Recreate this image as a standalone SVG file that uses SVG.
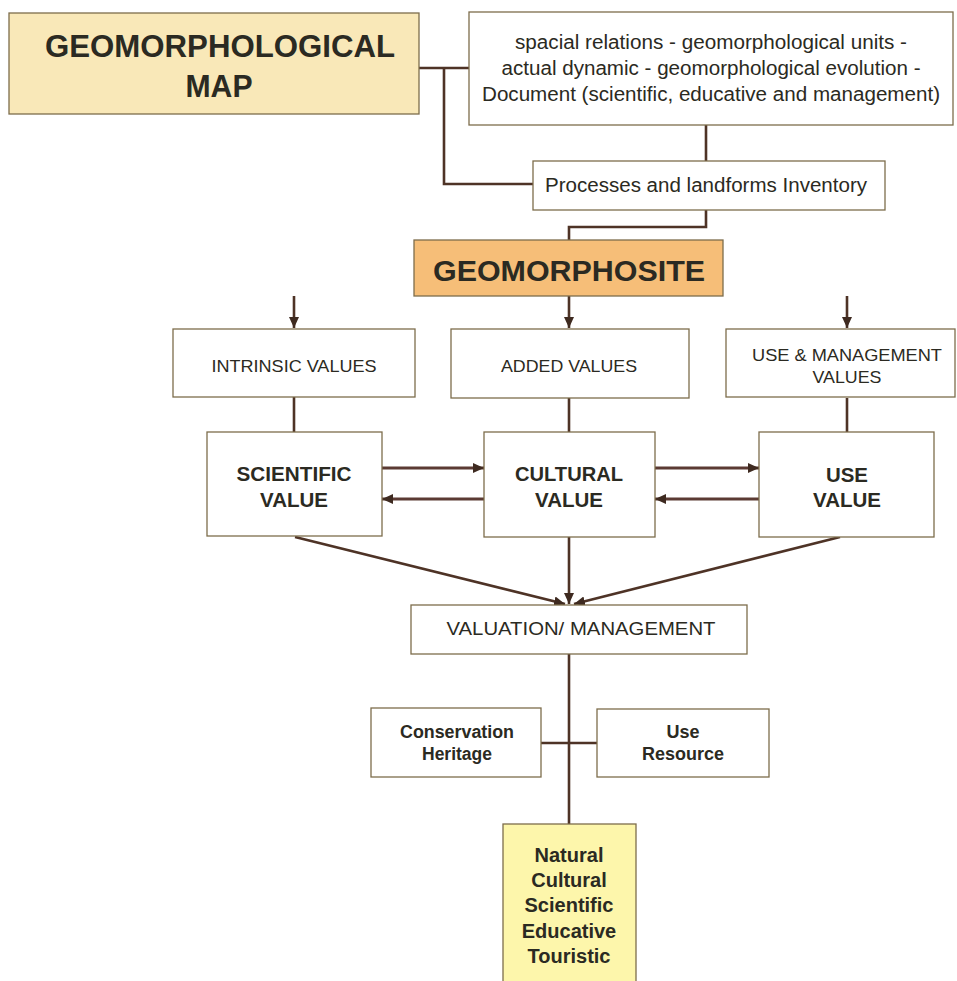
<svg xmlns="http://www.w3.org/2000/svg" width="957" height="981" viewBox="0 0 957 981">
<defs>
<style>
.box{fill:#ffffff;stroke:#7d6d4c;stroke-width:1.3}
.map{fill:#f9e8b8}
.site{fill:#f6be78}
.res{fill:#fdf6ab}
.ln{fill:none;stroke:#4e3326;stroke-width:2.6}
.dbl{fill:none;stroke:#5b3a33;stroke-width:3.2}
text{font-family:"Liberation Sans",Arial,sans-serif;fill:#2b2a22;text-anchor:middle}
.b{font-weight:bold}
</style>
<marker id="ah" markerUnits="userSpaceOnUse" markerWidth="12" markerHeight="10" refX="11" refY="5" orient="auto">
<path d="M0,0 L11,5 L0,10 Z" fill="#3e2a20"/>
</marker>
</defs>
<rect width="957" height="981" fill="#ffffff"/>

<g id="connectors">
<polyline class="ln" points="419,68 469,68"/>
<polyline class="ln" points="444,68 444,184 533,184"/>
<polyline class="ln" points="706,125 706,161"/>
<polyline class="ln" points="706,210 706,227 569,227 569,240"/>
<line class="ln" x1="569" y1="296" x2="569" y2="328" marker-end="url(#ah)"/>
<line class="ln" x1="294" y1="296" x2="294" y2="328" marker-end="url(#ah)"/>
<line class="ln" x1="847" y1="296" x2="847" y2="328" marker-end="url(#ah)"/>
<line class="ln" x1="294" y1="397" x2="294" y2="432"/>
<line class="ln" x1="569" y1="398" x2="569" y2="432"/>
<line class="ln" x1="847" y1="398" x2="847" y2="432"/>
<line class="dbl" x1="382" y1="468" x2="484" y2="468" marker-end="url(#ah)"/>
<line class="dbl" x1="484" y1="499" x2="382" y2="499" marker-end="url(#ah)"/>
<line class="dbl" x1="655" y1="468" x2="759" y2="468" marker-end="url(#ah)"/>
<line class="dbl" x1="759" y1="499" x2="655" y2="499" marker-end="url(#ah)"/>
<line class="ln" x1="295" y1="537" x2="565" y2="604" marker-end="url(#ah)"/>
<line class="ln" x1="569" y1="537" x2="569" y2="604" marker-end="url(#ah)"/>
<line class="ln" x1="840" y1="537" x2="574" y2="604" marker-end="url(#ah)"/>
<line class="ln" x1="569" y1="654" x2="569" y2="824"/>
<line class="ln" x1="541" y1="743" x2="597" y2="743"/>
</g>

<g id="geomorphological-map">
<rect class="box map" x="9" y="13" width="410" height="101"/>
<text class="b" x="220" y="57" font-size="32" textLength="350" lengthAdjust="spacingAndGlyphs">GEOMORPHOLOGICAL</text>
<text class="b" x="219" y="97" font-size="32" textLength="67" lengthAdjust="spacingAndGlyphs">MAP</text>
</g>

<g id="map-content">
<rect class="box" x="469" y="12" width="484" height="113"/>
<text x="711" y="49" font-size="19.5" textLength="392" lengthAdjust="spacingAndGlyphs">spacial relations - geomorphological units -</text>
<text x="711" y="75" font-size="19.5" textLength="419" lengthAdjust="spacingAndGlyphs">actual dynamic - geomorphological evolution -</text>
<text x="711" y="101" font-size="19.5" textLength="458" lengthAdjust="spacingAndGlyphs">Document (scientific, educative and management)</text>
</g>

<g id="inventory">
<rect class="box" x="533" y="161" width="352" height="49"/>
<text x="706" y="192" font-size="19.5" textLength="322" lengthAdjust="spacingAndGlyphs">Processes and landforms Inventory</text>
</g>

<g id="geomorphosite">
<rect class="box site" x="414" y="240" width="309" height="56"/>
<text class="b" x="569" y="281" font-size="29" textLength="272" lengthAdjust="spacingAndGlyphs">GEOMORPHOSITE</text>
</g>

<g id="intrinsic-values">
<rect class="box" x="173" y="329" width="242" height="68"/>
<text x="294" y="372" font-size="17" textLength="165" lengthAdjust="spacingAndGlyphs">INTRINSIC VALUES</text>
</g>

<g id="added-values">
<rect class="box" x="451" y="329" width="238" height="69"/>
<text x="569" y="372" font-size="17" textLength="136" lengthAdjust="spacingAndGlyphs">ADDED VALUES</text>
</g>

<g id="use-management-values">
<rect class="box" x="726" y="329" width="229" height="68"/>
<text x="847" y="361" font-size="17" textLength="190" lengthAdjust="spacingAndGlyphs">USE &amp; MANAGEMENT</text>
<text x="847" y="383" font-size="17" textLength="69" lengthAdjust="spacingAndGlyphs">VALUES</text>
</g>

<g id="scientific-value">
<rect class="box" x="207" y="432" width="175" height="104"/>
<text class="b" x="294" y="481" font-size="21" textLength="115" lengthAdjust="spacingAndGlyphs">SCIENTIFIC</text>
<text class="b" x="294" y="507" font-size="21" textLength="68" lengthAdjust="spacingAndGlyphs">VALUE</text>
</g>

<g id="cultural-value">
<rect class="box" x="484" y="432" width="171" height="105"/>
<text class="b" x="569" y="481" font-size="21" textLength="108" lengthAdjust="spacingAndGlyphs">CULTURAL</text>
<text class="b" x="569" y="507" font-size="21" textLength="68" lengthAdjust="spacingAndGlyphs">VALUE</text>
</g>

<g id="use-value">
<rect class="box" x="759" y="432" width="175" height="105"/>
<text class="b" x="847" y="482" font-size="21" textLength="42" lengthAdjust="spacingAndGlyphs">USE</text>
<text class="b" x="847" y="507" font-size="21" textLength="68" lengthAdjust="spacingAndGlyphs">VALUE</text>
</g>

<g id="valuation-management">
<rect class="box" x="411" y="605" width="336" height="49"/>
<text x="581" y="635" font-size="19" textLength="269" lengthAdjust="spacingAndGlyphs">VALUATION/ MANAGEMENT</text>
</g>

<g id="conservation-heritage">
<rect class="box" x="371" y="708" width="170" height="69"/>
<text class="b" x="457" y="738" font-size="18" textLength="114" lengthAdjust="spacingAndGlyphs">Conservation</text>
<text class="b" x="457" y="760" font-size="18" textLength="70" lengthAdjust="spacingAndGlyphs">Heritage</text>
</g>

<g id="use-resource">
<rect class="box" x="597" y="709" width="172" height="68"/>
<text class="b" x="683" y="738" font-size="18">Use</text>
<text class="b" x="683" y="760" font-size="18" textLength="82" lengthAdjust="spacingAndGlyphs">Resource</text>
</g>

<g id="heritage-types">
<rect class="box res" x="503" y="824" width="133" height="165"/>
<text class="b" x="569" y="862" font-size="20">Natural</text>
<text class="b" x="569" y="887" font-size="20">Cultural</text>
<text class="b" x="569" y="912" font-size="20">Scientific</text>
<text class="b" x="569" y="938" font-size="20">Educative</text>
<text class="b" x="569" y="963" font-size="20">Touristic</text>
</g>
</svg>
